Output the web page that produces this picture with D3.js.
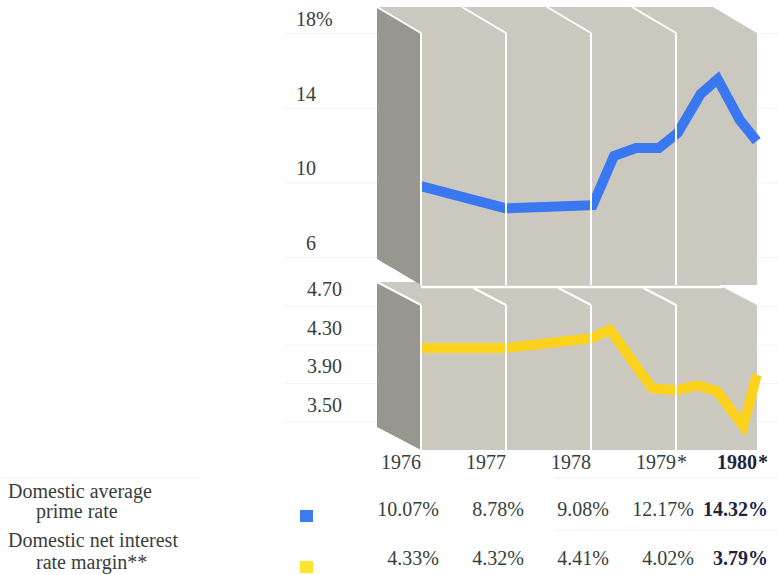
<!DOCTYPE html>
<html><head><meta charset="utf-8">
<script src="https://cdn.jsdelivr.net/npm/d3@7"></script>
<style>html,body{margin:0;padding:0;background:#fff;} svg{display:block;}</style>
</head><body><svg id="c" width="778" height="575"></svg>
<script>
// ---- data ----
const years = [1976, 1977, 1978, 1979, 1980];
const yearLabels = ["1976", "1977", "1978", "1979*", "1980*"];
const primeTicks = [6, 10, 14, 18];
const marginTicks = [3.50, 3.90, 4.30, 4.70];
const primeAvg = [10.07, 8.78, 9.08, 12.17, 14.32];
const marginAvg = [4.33, 4.32, 4.41, 4.02, 3.79];
const primeTime = [1976.0, 1977.0, 1978.02, 1978.27, 1978.53, 1978.80, 1979.02, 1979.29, 1979.49, 1979.75, 1979.95];
const primeRate = [9.82, 8.63, 8.80, 11.44, 11.87, 11.87, 12.67, 14.76, 15.56, 13.37, 12.24];
const marginTime = [1976.0, 1977.0, 1978.0, 1978.22, 1978.72, 1979.0, 1979.25, 1979.48, 1979.79, 1979.95];
const marginRate = [4.27, 4.27, 4.37, 4.46, 3.85, 3.83, 3.88, 3.82, 3.46, 3.99];
const seriesLabels = [["Domestic average", "prime rate"], ["Domestic net interest", "rate margin**"]];

// ---- layout ----
const FONT = "'Liberation Serif','Times New Roman',serif";
const TXT = "#36403b", BOLD = "#1e2440";
const BLUE = "#3a78f2", YELLOW = "#fdd21c";
const FACE = "#cbc8bf", DARK = "#98978f", GRID = "#f2f4ef";

const svg = d3.select("#c");
const x = d3.scaleLinear().domain([1976, 1980]).range([421, 761]);
const yP = d3.scaleLinear().domain([6, 18]).range([257.5, 33.5]);
const yM = d3.scaleLinear().domain([3.5, 4.7]).range([422, 306.5]);

const faceL = x(1976), faceR = 757, DX = -44;
const up = {top: 33, bottom: 285, dy: -26};
const lo = {top: 305, bottom: 450, dy: -23};

// faint gridlines in the white margins
const grid = svg.append("g").attr("stroke", GRID).attr("stroke-width", 1);
primeTicks.forEach(t => {
  grid.append("line").attr("x1", 285).attr("x2", faceL + DX).attr("y1", yP(t)).attr("y2", yP(t));
  grid.append("line").attr("x1", faceR).attr("x2", 778).attr("y1", yP(t)).attr("y2", yP(t));
});
marginTicks.forEach(t => {
  grid.append("line").attr("x1", 285).attr("x2", faceL + DX).attr("y1", yM(t)).attr("y2", yM(t));
  grid.append("line").attr("x1", faceR).attr("x2", 778).attr("y1", yM(t)).attr("y2", yM(t));
});
grid.append("line").attr("x1", 0).attr("x2", 200).attr("y1", 478).attr("y2", 478);
grid.append("line").attr("x1", 555).attr("x2", 778).attr("y1", 478).attr("y2", 478);
grid.append("line").attr("x1", 555).attr("x2", 778).attr("y1", 530).attr("y2", 530);

function panel(p) {
  const g = svg.append("g");
  g.append("polygon").attr("fill", FACE).attr("points", [
    [faceL + DX, p.top + p.dy], [faceR + DX, p.top + p.dy], [faceR, p.top], [faceL, p.top]
  ].join(" "));
  g.append("polygon").attr("fill", DARK).attr("points", [
    [faceL + DX, p.top + p.dy], [faceL, p.top], [faceL, p.bottom], [faceL + DX, p.bottom + p.dy]
  ].join(" "));
  g.append("rect").attr("fill", FACE).attr("x", faceL).attr("y", p.top)
    .attr("width", faceR - faceL).attr("height", p.bottom - p.top);
  return g;
}
panel(lo);
panel(up);

// lines
const lineP = d3.line().x(d => x(d[0])).y(d => yP(d[1]));
const lineM = d3.line().x(d => x(d[0])).y(d => yM(d[1]));
svg.append("path").datum(marginTime.map((t, i) => [t, marginRate[i]]))
  .attr("d", lineM).attr("fill", "none").attr("stroke", YELLOW).attr("stroke-width", 10)
  .attr("stroke-linejoin", "miter").attr("stroke-linecap", "butt");
svg.append("path").datum(primeTime.map((t, i) => [t, primeRate[i]]))
  .attr("d", lineP).attr("fill", "none").attr("stroke", BLUE).attr("stroke-width", 10)
  .attr("stroke-linejoin", "miter").attr("stroke-linecap", "butt");

// white edges
const w = svg.append("g").attr("stroke", "#fff").attr("stroke-width", 2).attr("fill", "none");
years.slice(0, 4).forEach(yr => {
  const xi = x(yr);
  w.append("line").attr("x1", xi).attr("x2", xi).attr("y1", up.top).attr("y2", up.bottom);
  w.append("line").attr("x1", xi + DX).attr("y1", up.top + up.dy).attr("x2", xi).attr("y2", up.top);
  w.append("line").attr("x1", xi).attr("x2", xi).attr("y1", lo.top).attr("y2", lo.bottom);
  if (yr === 1976) {
    w.append("line").attr("x1", xi + DX).attr("y1", lo.top + lo.dy).attr("x2", xi).attr("y2", lo.top);
  } else {
    const f = (lo.top - 288) / (-lo.dy);
    w.append("line").attr("x1", xi + DX * f).attr("y1", 288).attr("x2", xi).attr("y2", lo.top);
  }
});
w.append("line").attr("x1", faceL).attr("x2", faceR + DX * ((lo.top - 287) / -lo.dy))
  .attr("y1", 287).attr("y2", 287).attr("stroke-width", 2.5);

// y tick labels
function ticks(scale, vals, xPos, off, fmt) {
  const g = svg.append("g").attr("transform", `translate(${xPos},${off})`)
    .call(d3.axisLeft(scale).tickValues(vals).tickSize(0).tickPadding(0).tickFormat(fmt));
  g.select(".domain").remove();
  g.attr("font-family", FONT).attr("font-size", 20);
  g.selectAll("text").attr("dy", 0).attr("x", 0).attr("fill", TXT);
  return g;
}
ticks(yP, primeTicks, 316, -8, d3.format("d"));
svg.append("text").attr("x", 316).attr("y", yP(18) - 8).text("%")
  .attr("font-family", FONT).attr("font-size", 20).attr("fill", TXT);
ticks(yM, marginTicks, 342, -11, d3.format(".2f"));

// year labels
years.forEach((yr, i) => {
  const last = i === years.length - 1;
  const xr = Math.min(x(yr), faceR);
  const lab = yearLabels[i];
  svg.append("text").attr("x", xr).attr("y", 469).attr("text-anchor", "end")
    .attr("font-family", FONT).attr("font-size", 20).attr("fill", last ? BOLD : TXT)
    .attr("font-weight", last ? "bold" : "normal").text(lab.replace("*", ""));
  if (lab.includes("*")) {
    svg.append("text").attr("x", xr + 1).attr("y", 469).attr("font-family", FONT).attr("font-size", 20)
      .attr("fill", last ? BOLD : TXT).attr("font-weight", last ? "bold" : "normal").text("*");
  }
});

// table
const rows = [
  {lab: seriesLabels[0], vals: primeAvg, color: "#3e7cf0", y1: 498, y2: 518, vy: 516, sq: 510},
  {lab: seriesLabels[1], vals: marginAvg, color: "#fbe52e", y1: 547, y2: 569, vy: 565, sq: 561}
];
const fmt = d3.format(".2f");
rows.forEach(r => {
  svg.append("text").attr("x", 8).attr("y", r.y1).text(r.lab[0])
    .attr("font-family", FONT).attr("font-size", 20).attr("fill", TXT);
  svg.append("text").attr("x", 36).attr("y", r.y2).text(r.lab[1])
    .attr("font-family", FONT).attr("font-size", 20).attr("fill", TXT);
  svg.append("rect").attr("x", 300).attr("y", r.sq).attr("width", 13).attr("height", 12).attr("fill", r.color);
  r.vals.forEach((v, i) => {
    const last = i === r.vals.length - 1;
    svg.append("text").attr("x", last ? 768 : x(years[i]) + 18).attr("y", r.vy)
      .attr("text-anchor", "end").attr("font-family", FONT).attr("font-size", 20)
      .attr("font-weight", last ? "bold" : "normal").attr("fill", last ? BOLD : TXT)
      .text(fmt(v) + "%");
  });
});
</script></body></html>
